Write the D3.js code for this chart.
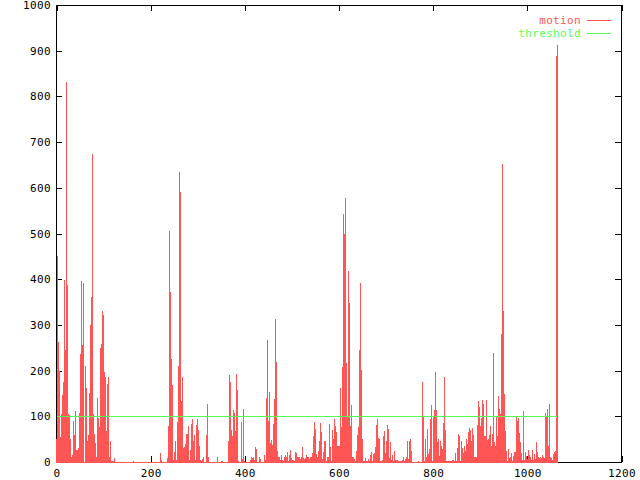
<!DOCTYPE html>
<html><head><meta charset="utf-8">
<script src="https://cdn.jsdelivr.net/npm/d3@7"></script>
<style>html,body{margin:0;padding:0;background:#fff;} svg{display:block;}</style>
</head><body><svg id="chart" width="640" height="480"></svg>
<script>
const motion = [
50, 451, 262, 200,
54, 105, 147, 176, 399, 246, 831, 388, 105, 103,
51, 10, 16, 89, 60, 111, 27, 27, 31, 108,
237, 397, 257, 392, 0, 209, 163, 47, 60, 151,
300, 362, 675, 105, 62, 42, 12, 140, 97, 76,
250, 258, 331, 322, 198, 185, 67, 171, 187, 10,
45, 2, 2, 2, 8, 1, 1, 1, 1, 1,
1, 1, 1, 1, 1, 1, 1, 1, 1, 1,
1, 1, 1, 3, 1, 1, 1, 1, 1, 1,
1, 1, 1, 1, 1, 1, 1, 1, 1, 1,
1, 1, 1, 1, 1, 1, 1, 1, 1, 1,
20, 5, 1, 1, 1, 1, 1, 8, 78, 505,
373, 226, 168, 5, 22, 45, 5, 87, 211, 634,
590, 134, 187, 31, 33, 40, 62, 62, 79, 5,
27, 83, 93, 47, 60, 5, 80, 95, 71, 36,
5, 2, 7, 10, 1, 1, 60, 127, 12, 1,
1, 1, 1, 1, 1, 1, 1, 10, 1, 1,
1, 3, 3, 1, 1, 1, 1, 1, 47, 191,
176, 71, 56, 114, 107, 68, 193, 157, 3, 1,
1, 87, 7, 117, 2, 1, 1, 1, 1, 1,
5, 10, 8, 12, 5, 32, 28, 1, 1, 10,
7, 1, 1, 1, 16, 5, 141, 268, 90, 154,
42, 48, 38, 84, 138, 314, 218, 25, 12, 10,
5, 16, 5, 3, 10, 16, 12, 22, 2, 16,
27, 8, 5, 5, 3, 22, 20, 12, 10, 10,
7, 12, 32, 8, 7, 8, 16, 10, 10, 7,
12, 12, 20, 57, 87, 72, 18, 12, 25, 45,
85, 66, 7, 22, 47, 45, 3, 12, 10, 84,
32, 2, 70, 50, 93, 78, 66, 36, 36, 36,
162, 76, 207, 543, 500, 578, 217, 101, 419, 349,
78, 125, 12, 10, 7, 3, 25, 60, 76, 246,
391, 202, 51, 3, 2, 8, 3, 2, 7, 3,
16, 22, 3, 18, 20, 32, 82, 95, 53, 50,
3, 3, 5, 57, 68, 20, 45, 82, 72, 8,
43, 5, 16, 3, 25, 5, 5, 5, 2, 2,
3, 3, 5, 10, 2, 7, 12, 45, 7, 47,
50, 25, 1, 1, 1, 1, 1, 1, 3, 1,
1, 1, 176, 98, 2, 50, 10, 72, 18, 28,
93, 125, 2, 100, 113, 198, 114, 43, 50, 13,
45, 35, 28, 85, 187, 70, 3, 2, 2, 2,
2, 3, 5, 5, 3, 20, 3, 31, 62, 57,
3, 45, 31, 20, 35, 25, 50, 40, 65, 75,
70, 47, 74, 60, 10, 10, 12, 82, 134, 120,
78, 97, 136, 127, 57, 57, 136, 48, 50, 60,
78, 36, 62, 238, 43, 35, 101, 57, 145, 116,
104, 279, 651, 331, 149, 67, 25, 3, 29, 8,
12, 20, 3, 14, 22, 22, 98, 89, 97, 64,
44, 20, 5, 112, 5, 22, 13, 7, 27, 16,
10, 5, 27, 5, 18, 7, 44, 22, 12, 8,
10, 8, 16, 10, 8, 108, 98, 116, 35, 128,
12, 8, 5, 18, 22, 25, 889, 913
];
// frame number of each sample (about 2.12 frames per sample)
const frames = motion.map((d, i) => Math.round(i * 2.124));
const thresholdFrames = [0, 1064];
const threshold = [100, 100];
const xTicks = [0, 200, 400, 600, 800, 1000, 1200];
const yTicks = [0, 100, 200, 300, 400, 500, 600, 700, 800, 900, 1000];
const seriesNames = ["motion", "threshold"];
const seriesColors = ["rgb(255,85,85)", "rgb(85,255,85)"];

const FONT = "'DejaVu Sans Mono', 'Liberation Mono', monospace";
const FSIZE = "11px";
const LSP = "0.35px";
const svg = d3.select("#chart");
const x = d3.scaleLinear().domain([0, 1200]).range([56.5, 621.5]);
const y = d3.scaleLinear().domain([0, 1000]).range([462, 5]);

// border
svg.append("rect").attr("x", 56.5).attr("y", 5.5).attr("width", 565).attr("height", 457)
  .attr("fill", "none").attr("stroke", "#000").attr("shape-rendering", "crispEdges");

function styleAxis(g) {
  g.select(".domain").remove();
  g.selectAll("line").attr("stroke", "#000").attr("shape-rendering", "crispEdges");
  g.selectAll("text").attr("fill", "#000").style("font-family", FONT)
    .style("font-size", FSIZE).style("letter-spacing", LSP);
}
svg.append("g").attr("transform", "translate(56,0)")
  .call(d3.axisLeft(y).tickValues(yTicks).tickSize(-6).tickPadding(5).tickFormat(d3.format("d")))
  .call(styleAxis);
svg.append("g").attr("transform", "translate(621,0)")
  .call(d3.axisRight(y).tickValues(yTicks).tickSize(-6).tickFormat(""))
  .call(styleAxis);
svg.append("g").attr("transform", "translate(0,462)")
  .call(d3.axisBottom(x).tickValues(xTicks).tickSize(-6).tickPadding(7).tickFormat(d3.format("d")))
  .call(styleAxis);
svg.append("g").attr("transform", "translate(0,5)")
  .call(d3.axisTop(x).tickValues(xTicks).tickSize(-6).tickFormat(""))
  .call(styleAxis);

// motion impulses
const base = Math.round(y(0));
svg.append("g").selectAll("rect").data(motion).join("rect")
  .attr("x", (d, i) => Math.floor(x(frames[i])))
  .attr("width", 1)
  .attr("y", d => Math.round(y(d)))
  .attr("height", d => base + 1 - Math.round(y(d)))
  .attr("fill", seriesColors[0])
  .attr("shape-rendering", "crispEdges");

// threshold line
const thrLine = d3.line().x((d, i) => x(thresholdFrames[i])).y(d => Math.round(y(d)) + 0.5);
svg.append("path").datum(threshold).attr("d", thrLine)
  .attr("fill", "none").attr("stroke", seriesColors[1]).attr("stroke-width", 1)
  .attr("shape-rendering", "crispEdges");

// legend
const legend = svg.append("g");
seriesNames.forEach((name, k) => {
  const ly = 20 + k * 13;
  legend.append("text").attr("x", 581).attr("y", ly).attr("dy", "0.35em")
    .attr("text-anchor", "end").attr("fill", seriesColors[k])
    .style("font-family", FONT).style("font-size", FSIZE).style("letter-spacing", LSP).text(name);
  legend.append("line").attr("x1", 587).attr("x2", 611).attr("y1", ly + 0.5).attr("y2", ly + 0.5)
    .attr("stroke", seriesColors[k]).attr("shape-rendering", "crispEdges");
});
</script>
</body></html>
